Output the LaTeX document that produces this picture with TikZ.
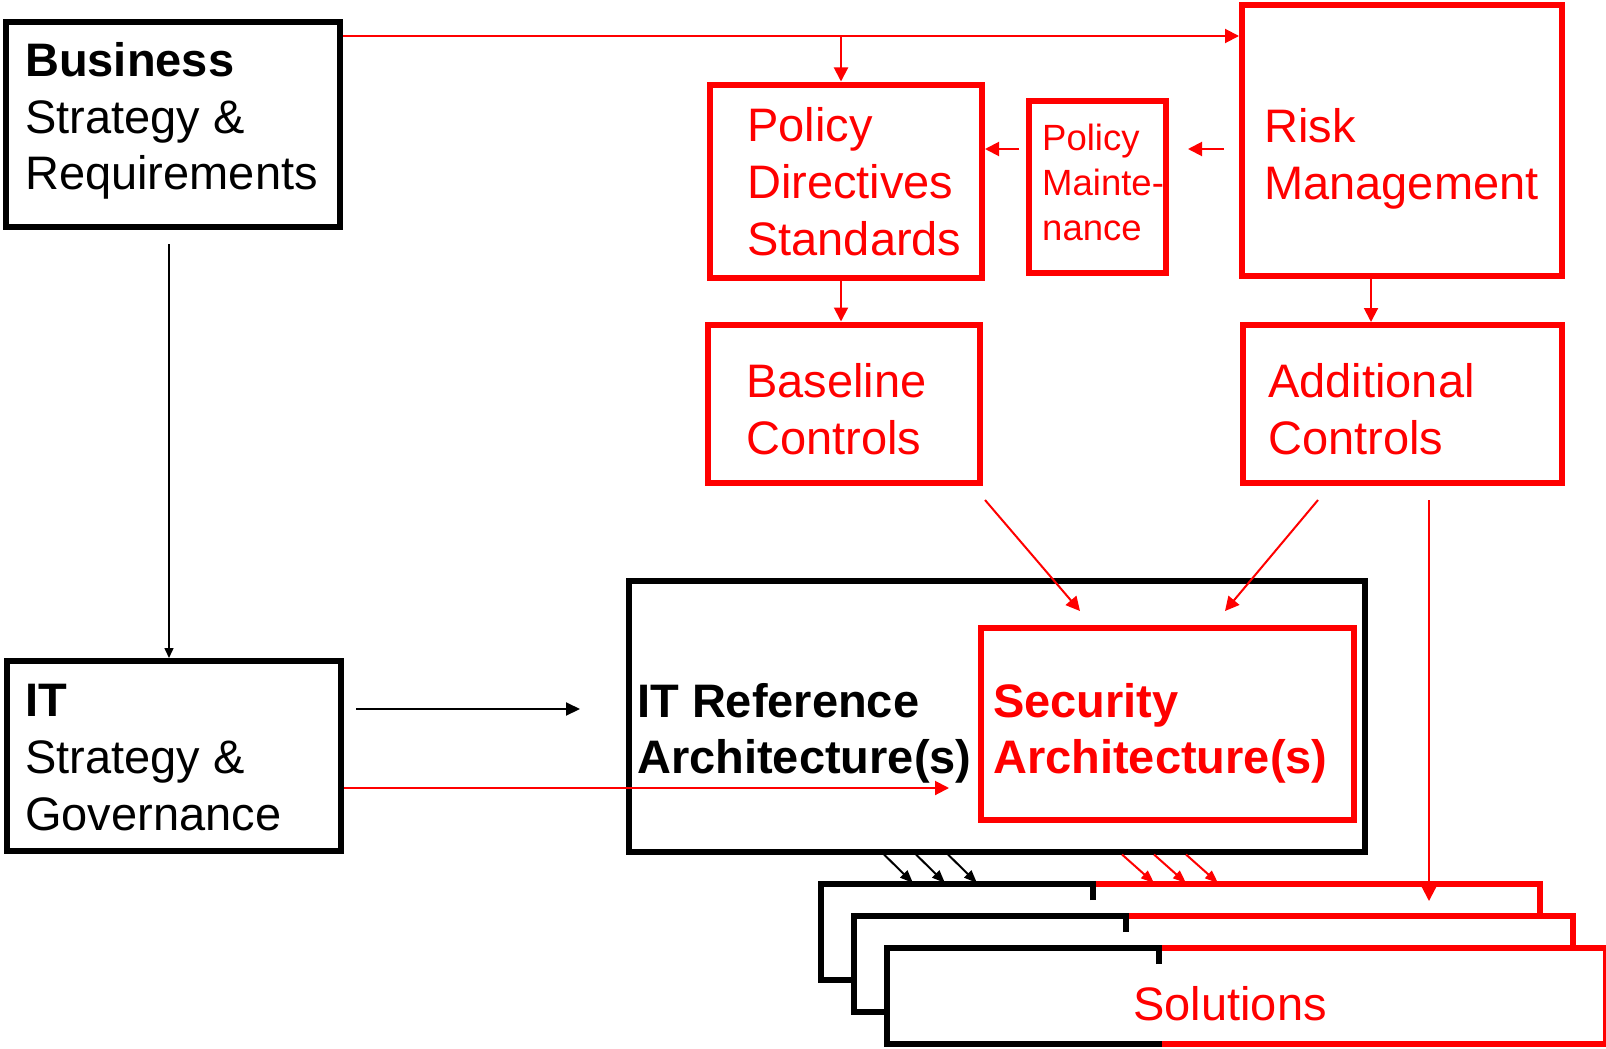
\documentclass[tikz,border=0pt]{standalone}
\usepackage{fontspec}
\setmainfont{Liberation Sans}
\usetikzlibrary{arrows.meta,calc}
\definecolor{sred}{RGB}{255,0,0}
% left-aligned lines whose baseline is the first line
\newcommand\txtlines[2]{\vtop{\baselineskip=#1\relax\lineskiplimit=-100pt\halign{##\hfil\cr#2\crcr}}}

\begin{document}
\begin{tikzpicture}[x=1pt,y=-1pt,
  box/.style={draw=#1, line width=6pt, inner sep=0pt},
  txt/.style={inner sep=0pt, anchor=base west, font=\fontsize{47}{56}\selectfont},
  soltile/.style={fill=white, draw=none, inner sep=0pt, outer sep=0pt,
    minimum width=719, minimum height=96},
  sline/.style={line width=5.5pt},
  rline/.style={draw=sred, line width=2pt},
  rarr/.style={rline, -{Triangle[length=14pt,width=14pt]}},
  rsmall/.style={rline, -{Triangle[length=13pt,width=10pt]}},
  barr/.style={draw=black, line width=2pt, -{Triangle[length=14pt,width=13pt]}},
  bthin/.style={draw=black, line width=1.5pt, -{Triangle[length=10pt,width=9pt]}},
  bsmall/.style={draw=black, line width=2pt, -{Triangle[length=13pt,width=10pt]}}]

\useasboundingbox (0,0) rectangle (1606,1049);

% ---- boxes ----
\node[box=black, minimum width=334, minimum height=204.5] (bus) at (173,124.25) {};
\node[box=black, minimum width=334, minimum height=190] (it) at (174,756) {};
\node[box=sred, minimum width=272, minimum height=193] (pds) at (846,181) {};
\node[box=sred, minimum width=137, minimum height=172] (pm) at (1097.5,186.5) {};
\node[box=sred, minimum width=320, minimum height=271] (risk) at (1402,140.5) {};
\node[box=sred, minimum width=272, minimum height=158.5] (base) at (844,403.75) {};
\node[box=sred, minimum width=319.5, minimum height=158] (add) at (1402.25,404) {};
\node[box=black, minimum width=735.5, minimum height=271] (ref) at (996.75,716) {};
\node[box=sred, minimum width=373.5, minimum height=192] (sec) at (1167.25,724) {};

% ---- texts ----
\node[txt] (bust) at (25,77) {\txtlines{56.5pt}{\textbf{Business}\cr Strategy \&\cr Requirements}};
\node[txt] (itt) at (25,716) {\txtlines{57pt}{\textbf{IT}\cr Strategy \&\cr Governance}};
\node[txt, text=sred] (pdst) at (747,141) {\txtlines{57pt}{Policy\cr Directives\cr Standards}};
\node[txt, text=sred, font=\fontsize{36.5}{44}\selectfont] (pmt) at (1042,150.5) {\txtlines{45pt}{Policy\cr Mainte-\cr nance}};
\node[txt, text=sred] (riskt) at (1264,142) {\txtlines{57.5pt}{Risk\cr Management}};
\node[txt, text=sred] (baset) at (746,397) {\txtlines{57pt}{Baseline\cr Controls}};
\node[txt, text=sred] (addt) at (1268,397) {\txtlines{57pt}{Additional\cr Controls}};
\node[txt, font=\fontsize{47}{56}\selectfont\bfseries] (reft) at (637,717) {\txtlines{56pt}{IT Reference\cr Architecture(s)}};
\node[txt, text=sred, font=\fontsize{47}{56}\selectfont\bfseries] (sect) at (993,717) {\txtlines{56pt}{Security\cr Architecture(s)}};

% ---- stacked solution tiles ----
\foreach \n/\cx/\cy in {sa/1180.5/932, sb/1213.5/964, sc/1246.5/996} {
  \node[soltile] (\n) at (\cx,\cy) {};
  \draw[sline, black] ($(\n.north west)+(272,16)$) -- ($(\n.north west)+(272,0)$)
     -- (\n.north west) -- (\n.south west) -- ($(\n.south west)+(274.75,0)$);
  \draw[sline, sred] ($(\n.north west)+(274.75,0)$) -- (\n.north east)
     -- (\n.south east) -- ($(\n.south west)+(274.75,0)$);
}
\node[txt, anchor=base, text=sred] (solt) at (1230,1020) {Solutions};

% ---- connectors ----
\coordinate (topy) at (0,36);
\coordinate (brn) at (841,36);
\draw[rarr] (bus.east |- topy) -- (risk.west |- topy);
\draw[rarr] (brn) -- (brn |- pds.north);

\coordinate (pmout) at (1019,149);
\coordinate (rkout) at (1224,149);
\coordinate (pmin) at (1188,149);
\draw[rarr] (pmout) -- (pmout -| pds.east);
\draw[rarr] (rkout) -- (pmin);

\coordinate (pdsx) at (841,0);
\coordinate (riskx) at (1371,0);
\draw[rarr] (pds.south -| pdsx) -- (base.north -| pdsx);
\draw[rarr] (risk.south -| riskx) -- (add.north -| riskx);

\coordinate (bso) at (985,500);
\coordinate (bsi) at (1080,611);
\coordinate (aso) at (1318,500);
\coordinate (asi) at (1225,611);
\draw[rarr] (bso) -- (bsi);
\draw[rarr] (aso) -- (asi);

\coordinate (ado) at (1429,500);
\coordinate (adi) at (1429,901);
\draw[rarr] (ado) -- (adi);

\coordinate (busout) at (169,244);
\draw[bthin] (busout) -- (busout |- it.north);

\coordinate (ito) at (356,709);
\coordinate (iti) at (580,709);
\draw[barr] (ito) -- (iti);

\coordinate (ity) at (0,788);
\coordinate (seci) at (949,788);
\draw[rarr] (it.east |- ity) -- (seci);

% arrows from the architectures down to the solutions
\foreach \dx in {0,32,64} {
  \draw[bsmall] ($(ref.south west)+(258+\dx,0)$) -- ($(sa.north west)+(92+\dx,-1)$);
  \draw[rsmall] ($(ref.south west)+(496+\dx,0)$) -- ($(sa.north west)+(333+\dx,-1)$);
}
\end{tikzpicture}
\end{document}
